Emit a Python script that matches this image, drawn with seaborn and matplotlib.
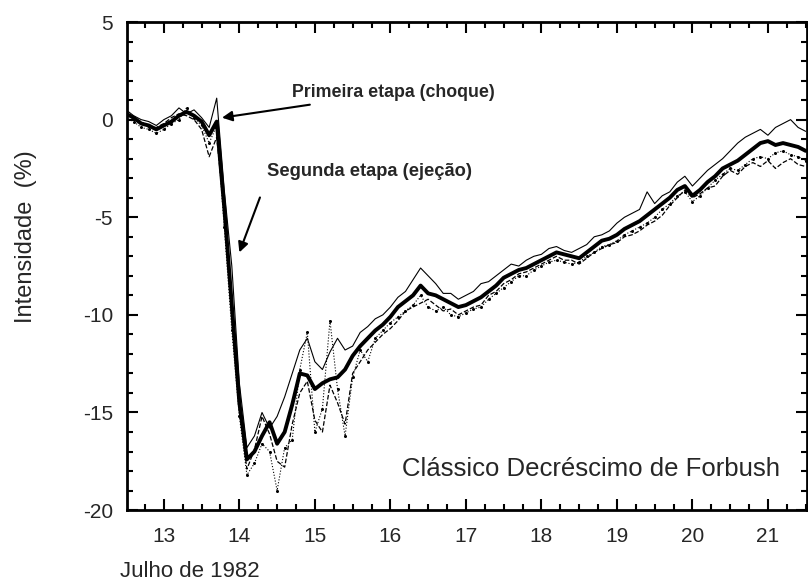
import pandas as pd
import seaborn as sns
import matplotlib
matplotlib.use("Agg")
from matplotlib import pyplot as plt
from matplotlib.ticker import MultipleLocator

# days of July 1982, 0.1 day steps
days = [12.5, 12.6, 12.7, 12.8, 12.9, 13.0, 13.1, 13.2, 13.3, 13.4,
        13.5, 13.6, 13.7, 13.8, 13.9, 14.0, 14.1, 14.2, 14.3, 14.4,
        14.5, 14.6, 14.7, 14.8, 14.9, 15.0, 15.1, 15.2, 15.3, 15.4,
        15.5, 15.6, 15.7, 15.8, 15.9, 16.0, 16.1, 16.2, 16.3, 16.4,
        16.5, 16.6, 16.7, 16.8, 16.9, 17.0, 17.1, 17.2, 17.3, 17.4,
        17.5, 17.6, 17.7, 17.8, 17.9, 18.0, 18.1, 18.2, 18.3, 18.4,
        18.5, 18.6, 18.7, 18.8, 18.9, 19.0, 19.1, 19.2, 19.3, 19.4,
        19.5, 19.6, 19.7, 19.8, 19.9, 20.0, 20.1, 20.2, 20.3, 20.4,
        20.5, 20.6, 20.7, 20.8, 20.9, 21.0, 21.1, 21.2, 21.3, 21.4,
        21.5]

# thick line: mean intensity (%)
mean_int = [0.3, 0.1, -0.2, -0.3, -0.5, -0.3, -0.1, 0.2, 0.4, 0.2,
            -0.1, -0.8, -0.1, -4.5, -9.5, -14.5, -17.4, -17.0, -16.2, -15.5,
            -16.6, -16.0, -14.6, -13.0, -13.1, -13.8, -13.5, -13.3, -13.2, -12.8,
            -12.1, -11.6, -11.2, -10.8, -10.5, -10.1, -9.6, -9.3, -9.0, -8.5,
            -8.9, -9.0, -9.2, -9.4, -9.6, -9.5, -9.3, -9.1, -8.8, -8.5,
            -8.1, -7.9, -7.7, -7.6, -7.4, -7.2, -7.0, -6.8, -6.9, -7.0,
            -7.1, -6.8, -6.5, -6.2, -6.1, -5.9, -5.6, -5.4, -5.2, -4.9,
            -4.6, -4.3, -4.0, -3.6, -3.4, -3.9, -3.6, -3.2, -2.9, -2.5,
            -2.3, -2.1, -1.8, -1.5, -1.2, -1.1, -1.3, -1.2, -1.3, -1.4,
            -1.6]

# thin solid line
station_a = [0.5, 0.2, 0.0, -0.1, -0.3, 0.0, 0.2, 0.6, 0.3, 0.5,
             0.1, -0.4, 1.1, -3.6, -7.5, -13.5, -16.8, -16.2, -15.0, -15.8,
             -15.2, -14.2, -13.0, -11.8, -11.2, -12.4, -12.8, -11.9, -11.2, -11.8,
             -11.6, -10.9, -10.6, -10.2, -10.0, -9.6, -9.1, -8.8, -8.2, -7.6,
             -8.0, -8.4, -8.9, -8.9, -9.2, -9.0, -8.8, -8.4, -8.3, -8.0,
             -7.7, -7.4, -7.5, -7.2, -7.0, -6.9, -6.6, -6.5, -6.7, -6.8,
             -6.6, -6.4, -6.0, -5.9, -5.7, -5.3, -5.0, -4.8, -4.6, -3.7,
             -4.3, -3.9, -3.7, -3.2, -2.9, -3.4, -3.0, -2.6, -2.3, -2.0,
             -1.6, -1.2, -0.9, -0.7, -0.5, -0.8, -0.4, -0.2, 0.0, -0.4,
             -0.6]

# thin dotted line with dots
station_b = [0.1, -0.1, -0.4, -0.5, -0.7, -0.5, -0.2, 0.0, 0.6, 0.1,
             -0.3, -1.2, -0.3, -5.5, -10.8, -15.2, -18.2, -17.6, -16.6, -17.0,
             -19.0, -16.8, -16.4, -12.8, -10.9, -16.0, -14.8, -10.3, -13.8, -16.2,
             -13.2, -11.8, -12.4, -11.2, -10.8, -10.4, -10.1, -9.8, -9.5, -9.0,
             -9.6, -9.8, -9.6, -10.0, -10.1, -9.9, -9.7, -9.6, -9.2, -8.9,
             -8.6, -8.3, -8.0, -8.0, -7.7, -7.5, -7.3, -7.2, -7.3, -7.4,
             -7.3, -7.0, -6.8, -6.5, -6.4, -6.2, -5.9, -5.7, -5.5, -5.3,
             -5.0, -4.6, -4.3, -3.9, -3.7, -4.2, -3.9, -3.5, -3.1, -2.8,
             -2.5, -2.6, -2.3, -2.0, -1.9, -2.0, -1.7, -1.6, -1.8, -1.9,
             -2.1]

# thin dashed line
station_c = [0.4, 0.0, -0.1, -0.4, -0.4, -0.2, 0.1, 0.3, 0.2, 0.0,
             -0.5, -1.9, -0.9, -4.8, -10.2, -14.9, -17.9, -16.9, -15.2, -16.1,
             -17.5, -17.8, -15.6, -14.0, -13.4, -15.4, -16.0, -13.6, -14.5, -15.6,
             -13.0, -12.4, -11.8, -11.4, -11.0, -10.7, -10.3, -9.8, -9.6, -9.4,
             -9.2, -9.5, -9.8, -9.7, -10.0, -9.8, -9.6, -9.5, -9.0, -8.8,
             -8.4, -8.2, -7.9, -7.8, -7.6, -7.4, -7.2, -7.0, -7.2, -7.2,
             -7.4, -7.1, -6.8, -6.6, -6.4, -6.3, -6.0, -5.9, -5.7, -5.4,
             -5.2, -4.9, -4.4, -4.0, -3.6, -4.0, -3.8, -3.5, -3.4, -2.9,
             -2.6, -2.8, -2.4, -2.2, -2.4, -2.1, -2.5, -2.2, -2.0, -2.3,
             -2.4]

df = pd.DataFrame({"dia": days, "media": mean_int, "a": station_a,
                   "b": station_b, "c": station_c})

sns.set_style("ticks")
plt.rcParams["font.family"] = ["Liberation Sans", "DejaVu Sans"]
plt.rcParams["axes.unicode_minus"] = False

fig = plt.figure(figsize=(8.08, 5.87), dpi=100)
ax = fig.add_axes([0.157, 0.131, 0.842, 0.8315])

sns.lineplot(data=df, x="dia", y="a", ax=ax, color="black", lw=0.8)
sns.lineplot(data=df, x="dia", y="b", ax=ax, color="black", lw=0.8,
             linestyle=":", marker="o", markersize=2.2, markeredgewidth=0)
sns.lineplot(data=df, x="dia", y="c", ax=ax, color="black", lw=0.9,
             linestyle="--", dashes=(3, 2))
sns.lineplot(data=df, x="dia", y="media", ax=ax, color="black", lw=2.8)

ax.set_xlim(12.51, 21.52)
ax.set_ylim(-20, 5)
ax.xaxis.set_major_locator(MultipleLocator(1))
ax.xaxis.set_minor_locator(MultipleLocator(0.25))
ax.yaxis.set_major_locator(MultipleLocator(5))
ax.yaxis.set_minor_locator(MultipleLocator(1))
ax.tick_params(which="both", direction="in", top=True, right=True,
               color="black", width=1.5)
ax.tick_params(which="major", length=8, labelsize=15)
ax.tick_params(which="minor", length=4)
ax.tick_params(axis="x", which="major", pad=12)
ax.tick_params(axis="y", which="major", pad=10)
for s in ax.spines.values():
    s.set_linewidth(2)
    s.set_color("black")

ax.set_xlabel("")
ax.set_ylabel("Intensidade  (%)", fontsize=17)
ax.yaxis.set_label_coords(-0.132, 0.56)
fig.text(0.149, 0.026, "Julho de 1982", fontsize=16, va="center")

ax.annotate("Primeira etapa (choque)", xy=(13.77, 0.1), xytext=(14.7, 1.4),
            fontsize=12.8, fontweight="bold", va="center", ha="left",
            arrowprops=dict(arrowstyle="-|>", color="black", lw=1.5,
                            mutation_scale=15, shrinkA=3, shrinkB=0))
ax.annotate("Segunda etapa (ejeção)", xy=(14.0, -6.8), xytext=(14.36, -2.65),
            fontsize=13.2, fontweight="bold", va="center", ha="left",
            arrowprops=dict(arrowstyle="-|>", color="black", lw=1.5,
                            mutation_scale=15, shrinkA=11, shrinkB=0,
                            relpos=(0.0, 0.0)))
ax.text(21.16, -17.9, "Clássico Decréscimo de Forbush", fontsize=18.5,
        ha="right", va="center")

fig.savefig("out.png", dpi=100)
